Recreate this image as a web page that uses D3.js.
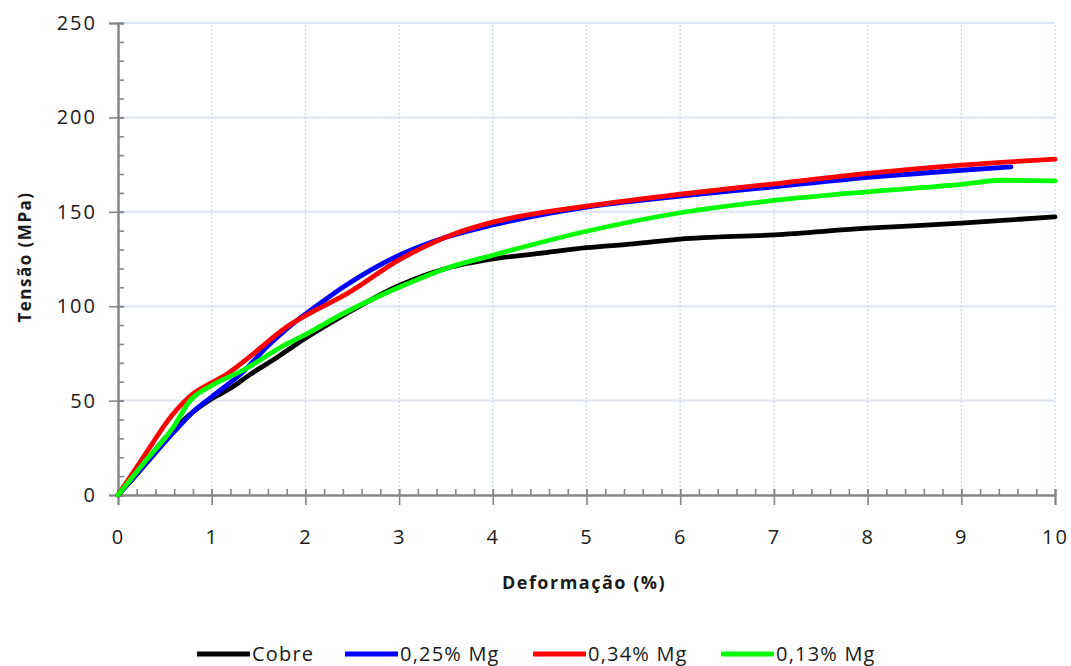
<!DOCTYPE html>
<html>
<head>
<meta charset="utf-8">
<script src="https://cdn.jsdelivr.net/npm/d3@7"></script>
<style>
  body { margin: 0; background: #fff; }
  svg text { font-family: "Open Sans", "Noto Sans", sans-serif; fill: #1a1a1a; }
</style>
</head>
<body>
<div class="chart"></div>
<script>
// ---------------- data ----------------
var seriesNames = ["Cobre", "0,25% Mg", "0,34% Mg", "0,13% Mg"];
var seriesColors = ["#000000", "#0000ff", "#ff0000", "#00ff00"];

var cobreX = [0, 0.2, 0.5, 0.8, 1.0, 1.2, 1.4, 1.7, 2.0, 2.4, 3.0, 3.5, 4.0, 4.5, 5.0, 5.5, 6.0, 7.0, 8.0, 9.0, 10.0];
var cobreY = [0, 11, 30, 44, 51, 56.5, 63.5, 73, 83, 95, 111, 120, 125, 128, 131, 133, 135.5, 137.8, 141.3, 144, 147.3];

var mg25X = [0, 0.2, 0.59, 0.8, 1.0, 1.33, 1.6, 1.8, 2.2, 2.4, 3.0, 3.5, 4.0, 5.0, 6.0, 7.0, 8.0, 9.0, 9.53];
var mg25Y = [0, 11, 33, 44, 52, 65, 79, 88, 103, 110, 127, 136.5, 143, 152.5, 158.3, 163.2, 168.2, 172, 173.8];

var mg34X = [0, 0.27, 0.59, 0.8, 1.0, 1.16, 1.4, 1.8, 2.0, 2.44, 3.0, 3.6, 4.0, 5.0, 6.0, 7.0, 8.0, 9.0, 10.0];
var mg34Y = [0, 20, 43, 53.5, 59.5, 64, 73, 89, 95, 106.5, 124.5, 138.5, 144.5, 153, 159.3, 164.8, 170.3, 174.7, 177.9];

var mg13X = [0, 0.27, 0.59, 0.77, 1.0, 1.33, 1.8, 2.0, 2.4, 3.0, 3.5, 4.0, 5.0, 6.0, 7.0, 8.0, 9.0, 9.44, 10.0];
var mg13Y = [0, 16.6, 36, 50, 58, 66, 80, 85, 96, 110, 120, 127, 139.7, 149.5, 156, 160.6, 164.5, 166.7, 166.4];

var xTicks = [0, 1, 2, 3, 4, 5, 6, 7, 8, 9, 10];
var yTicks = [0, 50, 100, 150, 200, 250];

// ---------------- chart ----------------
var width = 1071, height = 666;
var margin = {top: 23, right: 16, bottom: 171, left: 118};

var svg = d3.select(".chart").append("svg")
    .attr("width", width)
    .attr("height", height);

var xScale = d3.scaleLinear().domain([0, 10]).range([margin.left, width - margin.right]);
var yScale = d3.scaleLinear().domain([0, 250]).range([height - margin.bottom, margin.top]);

// grid
svg.append("g")
    .selectAll("line")
    .data(yTicks.slice(1))
    .join("line")
    .attr("x1", xScale(0)).attr("x2", xScale(10))
    .attr("y1", d => yScale(d)).attr("y2", d => yScale(d))
    .attr("stroke", "#dbe4f0").attr("stroke-width", 2);

svg.append("g")
    .selectAll("line")
    .data(xTicks.slice(1))
    .join("line")
    .attr("x1", d => xScale(d)).attr("x2", d => xScale(d))
    .attr("y1", yScale(0)).attr("y2", yScale(250))
    .attr("stroke", "#c9d6e6").attr("stroke-width", 1.2)
    .attr("stroke-dasharray", "2,2");

// axes
var axisColor = "#868686";

function styleTickText(g) {
    g.selectAll("text")
        .attr("font-size", "20px")
        .attr("letter-spacing", "2px")
        .attr("fill", "#1a1a1a");
}

function xAxis(g) {
    g.attr("transform", `translate(0,${yScale(0)})`);
    // minor ticks (inside)
    g.append("g").call(d3.axisTop(xScale).tickValues(d3.range(0, 10.01, 0.2)).tickSize(6).tickFormat(""));
    // major ticks crossing
    g.append("g").attr("class", "major")
        .call(d3.axisBottom(xScale).tickValues(xTicks).tickSize(10).tickPadding(25)
        .tickFormat(d3.format("d")));
    g.selectAll(".tick line").attr("stroke", axisColor).attr("stroke-width", 1.6);
    g.selectAll(".major .tick line").attr("y1", -6);
    g.selectAll(".domain").attr("stroke", axisColor).attr("stroke-width", 2);
    styleTickText(g);
}

function yAxis(g) {
    g.attr("transform", `translate(${xScale(0)},0)`);
    g.append("g").call(d3.axisRight(yScale).tickValues(d3.range(0, 250.1, 10)).tickSize(6).tickFormat(""));
    g.append("g").attr("class", "major")
        .call(d3.axisLeft(yScale).tickValues(yTicks).tickSize(9).tickPadding(12)
        .tickFormat(d3.format("d")));
    g.selectAll(".tick line").attr("stroke", axisColor).attr("stroke-width", 1.6);
    g.selectAll(".major .tick line").attr("x1", 6);
    g.selectAll(".domain").attr("stroke", axisColor).attr("stroke-width", 2);
    styleTickText(g);
}

svg.append("g").attr("class", "x axis").call(xAxis);
svg.append("g").attr("class", "y axis").call(yAxis);

// lines
var seriesData = [
    d3.zip(cobreX, cobreY),
    d3.zip(mg25X, mg25Y),
    d3.zip(mg34X, mg34Y),
    d3.zip(mg13X, mg13Y)
];

var line = d3.line()
    .x(d => xScale(d[0]))
    .y(d => yScale(d[1]))
    .curve(d3.curveMonotoneX);

svg.append("g")
    .selectAll("path")
    .data(seriesData)
    .join("path")
    .attr("d", line)
    .attr("fill", "none")
    .attr("stroke", (d, i) => seriesColors[i])
    .attr("stroke-width", 4.8)
    .attr("stroke-linecap", "round")
    .attr("stroke-linejoin", "round");

// axis titles
svg.append("text")
    .attr("x", 584)
    .attr("y", 589)
    .attr("text-anchor", "middle")
    .attr("font-size", "18px")
    .attr("font-weight", "bold")
    .attr("letter-spacing", "1.5px")
    .text("Deformação (%)");

svg.append("text")
    .attr("transform", "translate(31,257) rotate(-90)")
    .attr("text-anchor", "middle")
    .attr("font-size", "17px")
    .attr("font-weight", "bold")
    .attr("letter-spacing", "1.5px")
    .text("Tensão (MPa)");

// legend
var legendX = [197, 345, 533, 721];
var legend = svg.append("g")
    .selectAll("g")
    .data(seriesNames)
    .join("g")
    .attr("transform", (d, i) => `translate(${legendX[i]},654)`);

legend.append("line")
    .attr("x1", 0).attr("x2", 53)
    .attr("stroke", (d, i) => seriesColors[i])
    .attr("stroke-width", 4.8);

legend.append("text")
    .attr("x", 55)
    .attr("y", 7)
    .attr("font-size", "20px")
    .attr("letter-spacing", "1.2px")
    .text(d => d);
</script>
</body>
</html>
